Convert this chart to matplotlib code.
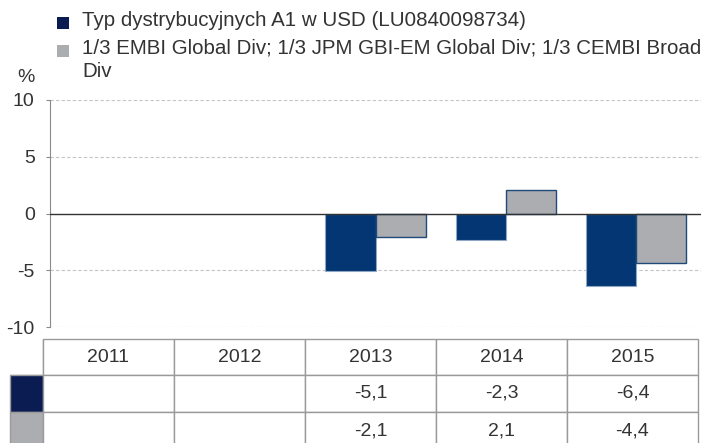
import numpy as np
import matplotlib
matplotlib.use("Agg")
import matplotlib.pyplot as plt
from matplotlib.patches import Rectangle

# data
years = ["2011", "2012", "2013", "2014", "2015"]
fund = [np.nan, np.nan, -5.1, -2.3, -6.4]
bench = [np.nan, np.nan, -2.1, 2.1, -4.4]
fund_label = "Typ dystrybucyjnych A1 w USD (LU0840098734)"
bench_label = "1/3 EMBI Global Div; 1/3 JPM GBI-EM Global Div; 1/3 CEMBI Broad\nDiv"
yticks = [-10, -5, 0, 5, 10]

navy_bar = "#033672"
navy_key = "#0b1c52"
grey = "#abadb0"
txt = "#333333"

plt.rcParams["font.family"] = ["Liberation Sans", "DejaVu Sans"]

W, H = 701, 443
fig = plt.figure(figsize=(W / 100, H / 100), dpi=100)

# main bar axes
ax = fig.add_axes([50 / W, 1 - 327 / H, (W - 50) / W, 227 / H])
x = np.arange(len(years))
bw = 0.385
ax.bar(x - bw / 2, fund, width=bw, color=navy_bar, edgecolor="#8fa6c4", linewidth=0.8, zorder=3)
ax.bar(x + bw / 2, bench, width=bw, color=grey, edgecolor="#1f4a7a", linewidth=1.0, zorder=3)
ax.axhline(0, color="#333333", linewidth=1.0, zorder=4)
for v in yticks:
    if v != 0:
        ax.axhline(v, color="#c4c4c4", linewidth=0.8, linestyle=(0, (3, 2)), zorder=1)
ax.set_xlim(-0.5, len(years) - 0.5)
ax.set_ylim(-10, 10)
ax.set_yticks(yticks)
ax.set_yticklabels([str(v) for v in yticks], fontsize=14, color=txt)
ax.set_xticks([])
for s in ["top", "right", "bottom"]:
    ax.spines[s].set_visible(False)
ax.spines["left"].set_color("#8a8a8a")
ax.tick_params(axis="y", length=3, color="#8a8a8a", pad=8)

fig.text(17 / W, 1 - 77 / H, "%", fontsize=14, color=txt, va="center", ha="left")

# legend drawn by hand: square key + label, first line aligned with key
for key_col, label, ytop in [(navy_key, fund_label, 17), (grey, bench_label, 45)]:
    fig.patches.append(Rectangle((57 / W, 1 - (ytop + 12) / H), 12 / W, 12 / H,
                                 transform=fig.transFigure, facecolor=key_col,
                                 edgecolor="none"))
    fig.text(82 / W, 1 - (ytop - 6) / H, label, fontsize=14.8, color=txt,
             ha="left", va="top", linespacing=1.25)

# data table below the chart
tax = fig.add_axes([0, 0, 1, 1])
tax.axis("off")

def fmt(v):
    return "" if np.isnan(v) else f"{v:.1f}".replace(".", ",")

header = [""] + years
cell_text = [[""] + [fmt(v) for v in fund], [""] + [fmt(v) for v in bench]]
cell_colours = [[navy_key] + ["white"] * len(years), [grey] + ["white"] * len(years)]
tbl = tax.table(cellText=cell_text, cellColours=cell_colours, colLabels=header,
                cellLoc="center", bbox=[10 / W, (H - 449) / H, 688 / W, 110 / H])
tbl.auto_set_font_size(False)
for (r, c), cell in tbl.get_celld().items():
    cell.set_edgecolor("#9a9a9a")
    cell.set_linewidth(1.0)
    cell.get_text().set_fontsize(14)
    cell.get_text().set_color(txt)
    cell.set_width(33 if c == 0 else 131)
    cell.set_height(36 if r == 0 else 37)
    if r == 0 and c == 0:
        cell.visible_edges = "BR"

fig.savefig("out.png", dpi=100)
